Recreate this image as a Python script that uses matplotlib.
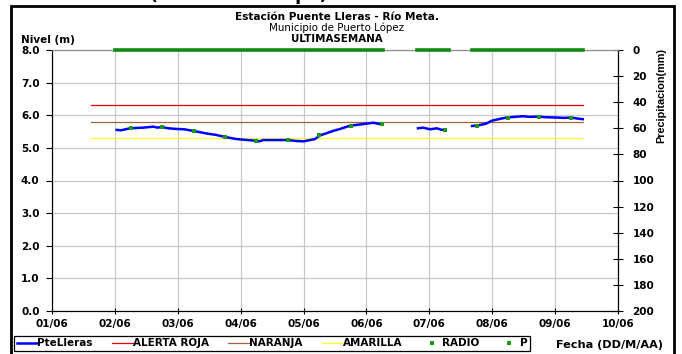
import numpy as np
import matplotlib
matplotlib.use("Agg")
import matplotlib.pyplot as plt
from matplotlib.lines import Line2D
from matplotlib.patches import Rectangle

plt.rcParams['font.family'] = ['DejaVu Sans']

nan = np.nan
# ---- data ----
tick_labels = ["01/06", "02/06", "03/06", "04/06", "05/06", "06/06", "07/06", "08/06", "09/06", "10/06"]

level_days = [1.03, 1.10, 1.24, 1.45, 1.61, 1.68, 1.74, 1.85, 1.98, 2.10, 2.25, 2.46, 2.60, 2.74, 2.90,
              2.99, 3.24, 3.30, 3.36, 3.55, 3.73, 3.90, 4.00, 4.18, 4.26, 4.47, 4.58, 4.74, 4.95, 5.11, 5.24,
              nan,
              5.82, 5.90, 6.01, 6.12, 6.18, 6.25,
              nan,
              6.68, 6.80, 6.90, 6.99, 7.10, 7.23, 7.35, 7.49, 7.60, 7.73, 7.85, 8.02, 8.15, 8.25, 8.35, 8.44]
level_vals = [5.55, 5.54, 5.60, 5.62, 5.65, 5.62, 5.64, 5.60, 5.58, 5.57, 5.52, 5.44, 5.40, 5.34, 5.28,
              5.26, 5.22, 5.20, 5.24, 5.24, 5.24, 5.21, 5.20, 5.27, 5.38, 5.52, 5.58, 5.68, 5.73, 5.77, 5.72,
              nan,
              5.60, 5.62, 5.57, 5.60, 5.56, 5.55,
              nan,
              5.67, 5.70, 5.74, 5.83, 5.88, 5.93, 5.95, 5.97, 5.95, 5.96, 5.94, 5.93, 5.92, 5.93, 5.90, 5.88]

radio_days = [1.25, 1.75, 2.25, 2.75, 3.25, 3.75, 4.25, 4.75, 5.25, 6.25, 6.75, 7.25, 7.75, 8.25]
radio_vals = [5.60, 5.63, 5.52, 5.34, 5.22, 5.24, 5.38, 5.68, 5.72, 5.55, 5.68, 5.93, 5.96, 5.93]

p_days = [1.0, 5.26, nan, 5.80, 6.31, nan, 6.68, 8.44]
p_vals = [0, 0, nan, 0, 0, nan, 0, 0]

alert_days = [0.62, 8.44]
alerta_roja = 6.3
naranja = 5.8
amarilla = 5.3

# ---- figure ----
fig = plt.figure(figsize=(6.82, 3.54), dpi=100)
W, H = 682, 354
ax = fig.add_axes([52 / W, 1 - 311 / H, (618 - 52) / W, (311 - 50) / H])
ax2 = ax.twinx()

ax.set_xlim(0, 9)
ax.set_ylim(0, 8)
ax2.set_ylim(200, 0)

tfs = 7.5
ax.set_xticks(range(len(tick_labels)))
ax.set_xticklabels(tick_labels, fontsize=tfs, fontweight='bold')
ax.set_yticks(np.arange(0, 9, 1))
ax.set_yticklabels([f"{v:.1f}" for v in np.arange(0, 9, 1)], fontsize=tfs, fontweight='bold')
ax2.set_yticks(np.arange(0, 201, 20))
ax2.set_yticklabels([str(v) for v in range(0, 201, 20)], fontsize=tfs, fontweight='bold')

ax.grid(True, color='#c8c8c8', linewidth=0.9)
ax.set_axisbelow(True)
ax.tick_params(axis='x', direction='inout', length=5, width=0.8, pad=3)
ax.tick_params(axis='y', direction='out', length=4, width=0.8, pad=5)
ax2.tick_params(axis='y', direction='inout', length=7, width=0.8, pad=7)

for a in (ax, ax2):
    a.spines['top'].set_color('#909090')
    a.spines['left'].set_color('black')
    a.spines['right'].set_color('black')
    a.spines['bottom'].set_color('black')

ax.plot(alert_days, [alerta_roja] * 2, color='#e60000', lw=0.9)
ax.plot(alert_days, [naranja] * 2, color='#a0643c', lw=0.9)
ax.plot(alert_days, [amarilla] * 2, color='#ffff33', lw=1.0)
ax.plot(level_days, level_vals, color='#0000ff', lw=1.8)
ax.plot(radio_days, radio_vals, ls='none', marker='s', ms=2.6, mew=0, color='#1a9a1a')
ax2.plot(p_days, p_vals, color='#108a10', lw=2.6, clip_on=False, zorder=5)

ax2.set_ylabel("Precipitacion(mm)", fontsize=7.8, fontweight='bold', family='Liberation Sans')
ax2.yaxis.set_label_coords(1.068, 0.824)

fig.text(21 / W, 1 - 43 / H, "Nivel (m)", fontsize=7.5, fontweight='bold', va='baseline')
cx = 337 / W
fig.text(cx, 1 - 20 / H, "Estación Puente Lleras - Río Meta.", fontsize=7.6, fontweight='bold', ha='center', va='baseline')
fig.text(cx, 1 - 31 / H, "Municipio de Puerto López", fontsize=7.4, ha='center', va='baseline')
fig.text(cx, 1 - 42 / H, "ULTIMASEMANA", fontsize=7.4, fontweight='bold', ha='center', va='baseline')
fig.text(239 / W, 1.0 + 0.5 / H, "(Datos en tiempo)", fontsize=12.5, fontweight='bold', ha='center', va='baseline')
fig.text(556 / W, 1 - 348 / H, "Fecha (DD/M/AA)", fontsize=8.1, fontweight='bold', va='baseline')

# outer frame
fig.patches.append(Rectangle((11 / W, -0.05), (674 - 11) / W, 1.05 - 6 / H, transform=fig.transFigure,
                             fill=False, edgecolor='black', linewidth=2.0))

handles = [
    Line2D([], [], color='#0000ff', lw=1.8),
    Line2D([], [], color='#e60000', lw=0.9),
    Line2D([], [], color='#a0643c', lw=0.9),
    Line2D([], [], color='#ffff33', lw=1.0),
    Line2D([], [], ls='none', marker='s', ms=2.6, mew=0, color='#1a9a1a'),
    Line2D([], [], ls='none', marker='s', ms=2.6, mew=0, color='#1a9a1a'),
]
labels = ["PteLleras", "ALERTA ROJA", "NARANJA", "AMARILLA", "RADIO", "P"]
leg = fig.legend(handles, labels, loc='center left', bbox_to_anchor=(14 / W, 1 - 343.5 / H), ncol=6,
                 frameon=True, fancybox=False, edgecolor='black', framealpha=1,
                 prop={'size': 7.5, 'weight': 'bold'}, handlelength=2.0, handletextpad=0.0,
                 columnspacing=1.85, borderpad=0.25, borderaxespad=0)
leg.get_frame().set_linewidth(0.9)

fig.savefig("out.png", dpi=100)
